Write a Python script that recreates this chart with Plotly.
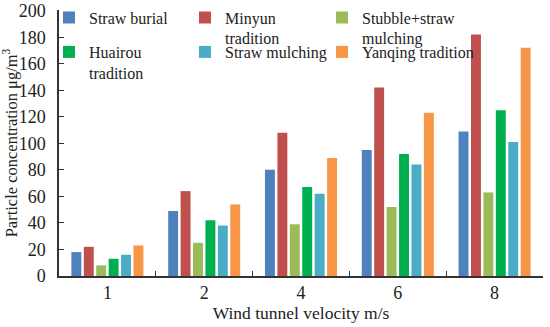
import plotly.graph_objects as go

categories = ["1", "2", "4", "6", "8"]
series_names = ["Straw burial", "Minyun<br>tradition", "Stubble+straw<br>mulching",
                "Huairou<br>tradition", "Straw mulching", "Yanqing tradition"]
straw_burial = [18, 49, 80, 95, 109]
minyun = [22, 64, 108, 142, 182]
stubble = [8, 25, 39, 52, 63]
huairou = [13, 42, 67, 92, 125]
straw_mulching = [16, 38, 62, 84, 101]
yanqing = [23, 54, 89, 123, 172]
colors = ["#4F81BD", "#C0504D", "#9BBB59", "#00B050", "#4BACC6", "#F79646"]

values = [straw_burial, minyun, stubble, huairou, straw_mulching, yanqing]

W, H = 550, 327
ML, MR, MT, MB = 59, 7, 10, 51
PW, PH = W - ML - MR, H - MT - MB

font = "Liberation Serif"
# legend slot positions (pixel positions of each legend box's top-left)
leg_px = [(49, 0.5), (185, 0.5), (322, 0.5), (49, 35), (185, 35), (322, 35)]

fig = go.Figure()
layout_legends = {}
for i, (name, vals, c) in enumerate(zip(series_names, values, colors)):
    key = "legend" if i == 0 else f"legend{i + 1}"
    fig.add_trace(go.Bar(x=categories, y=vals, name=name, marker_color=c,
                         marker_line_width=0, legend=key, showlegend=True))
    px, py = leg_px[i]
    layout_legends[key] = dict(
        x=(px - ML) / PW, y=1 - (py - MT) / PH, xanchor="left", yanchor="top",
        font=dict(size=16, family=font, color="#222"), valign="top",
        bgcolor="rgba(0,0,0,0)", borderwidth=0)

fig.update_layout(
    width=W, height=H,
    margin=dict(l=ML, r=MR, t=MT, b=MB, autoexpand=False),
    paper_bgcolor="white", plot_bgcolor="white",
    showlegend=True,
    font=dict(family=font, size=18, color="#222"),
    barmode="group", bargap=0.23, bargroupgap=0.2,
    xaxis=dict(type="category", showline=True, linecolor="#333", linewidth=1.5,
               ticks="inside", tickson="boundaries", ticklen=5, tickcolor="#333",
               automargin=False,
               title=dict(text="Wind tunnel velocity m/s", standoff=0, font=dict(size=17.5)),
               tickfont=dict(size=18)),
    yaxis=dict(range=[0, 200.5], dtick=20, showline=True, linecolor="#333", linewidth=1.5,
               ticks="inside", ticklen=5, tickcolor="#333", showgrid=False, zeroline=False,
               automargin=False, ticklabelstandoff=8, ticklabeloverflow="allow",
               title=dict(text="Particle concentration μg/m<sup>3</sup>", standoff=4, font=dict(size=16.5)),
               tickfont=dict(size=18)),
    **layout_legends,
)
fig.write_html("out.html", post_script="document.body.style.margin='0';",
               config={"displayModeBar": False})
